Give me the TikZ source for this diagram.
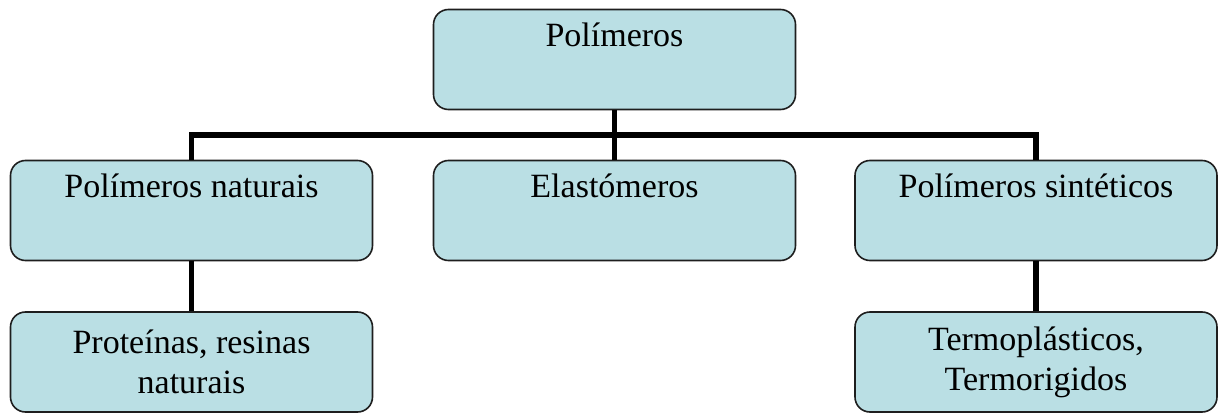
\documentclass[tikz,border=0pt]{standalone}
\usepackage{fontspec}
\setmainfont{Liberation Serif}
\definecolor{boxfill}{RGB}{186,223,228}
\definecolor{boxline}{RGB}{30,30,30}
\tikzset{
  box/.style={draw=boxline, line width=1.6pt, fill=boxfill, rounded corners=15pt,
    minimum width=362pt, minimum height=100pt, inner sep=0pt,
    font=\fontsize{34}{40}\selectfont},
  topbox/.style={box, text height=37pt, text depth=63pt},
  leafbox/.style={box, align=center},
  conn/.style={line width=5.5pt, draw=black}
}
\begin{document}
\begin{tikzpicture}[x=1pt,y=-1pt]
\useasboundingbox (0,0) rectangle (1218,414);
\node[topbox] (root) at (614.5,59.5) {Polímeros};
\node[topbox] (nat) at (191.5,210.5) {Polímeros naturais};
\node[topbox] (ela) at (614.5,210.5) {Elastómeros};
\node[topbox] (sin) at (1036,210.5) {Polímeros sintéticos};
\node[leafbox] (prot) at (191.5,362) {Proteínas, resinas\\naturais};
\node[leafbox] (termo) at (1036,362) {Termoplásticos,\\Termorigidos};
\coordinate (bar) at (614.5,135);
\draw[conn] (nat.north) -- (nat.north |- bar) -- (sin.north |- bar) -- (sin.north);
\draw[conn] (root.south) -- (ela.north);
\draw[conn] (nat.south) -- (prot.north);
\draw[conn] (sin.south) -- (termo.north);
\end{tikzpicture}
\end{document}
